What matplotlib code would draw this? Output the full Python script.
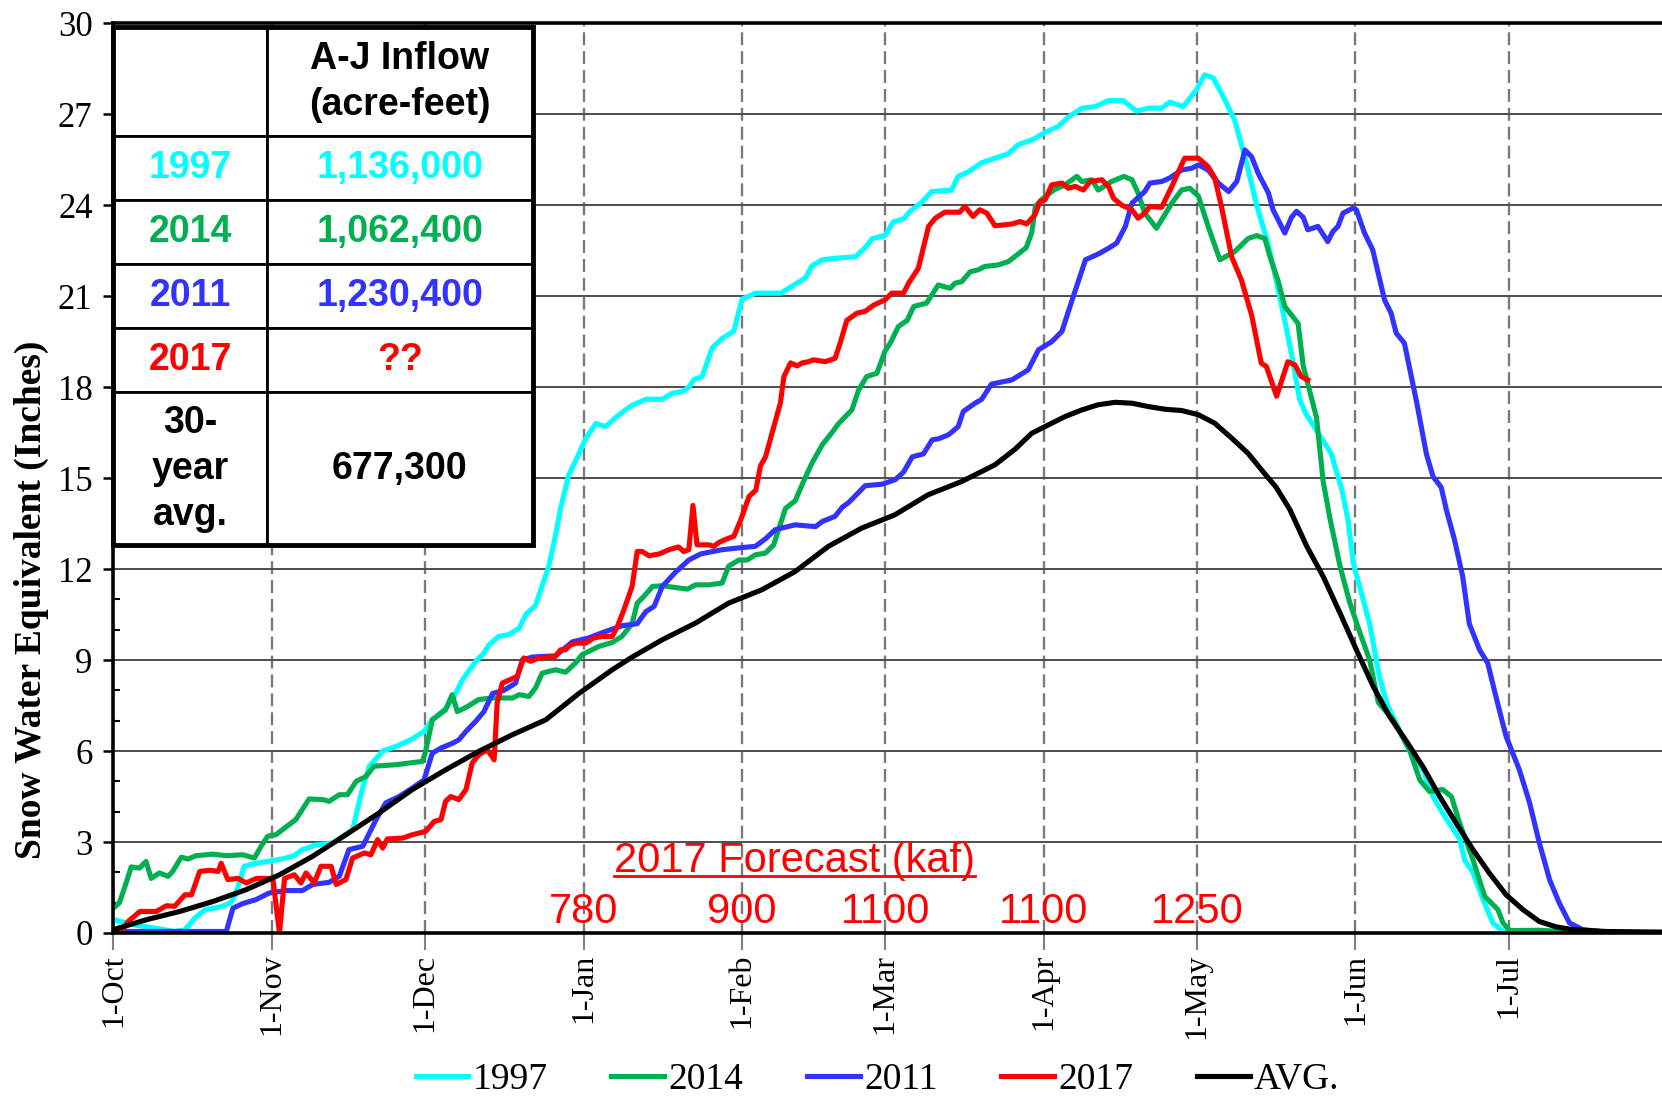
import numpy as np
import matplotlib
matplotlib.use('Agg')
import matplotlib.pyplot as plt
from matplotlib.ticker import MultipleLocator
from matplotlib.patches import Rectangle

# snow water equivalent (inches) vs day of water year (0 = 1-Oct)
pts_1997 = [(0, 0.44), (4, 0.27), (8, 0.16), (12, 0.05), (14, 0.1), (16, 0.5), (18, 0.77), (21, 0.86),
            (23, 1.0), (24, 1.3), (25.6, 2.2), (28, 2.3), (33, 2.44), (35.4, 2.55), (37, 2.75), (39.6, 2.9),
            (43, 2.97), (46.8, 3.4), (47.8, 4.1), (48.8, 4.8), (50.1, 5.5), (52.7, 6.0), (55.3, 6.15),
            (58.5, 6.4), (60.8, 6.65), (62.4, 7.03), (65, 7.4), (66.7, 7.8), (68.3, 8.35), (70.9, 8.96),
            (72.5, 9.23), (73.5, 9.5), (75.4, 9.78), (77.4, 9.84), (79.4, 10.05), (80.7, 10.5), (82.6, 10.8),
            (85.2, 12.1), (86.5, 13.1), (87.5, 14.0), (89.1, 15.1), (90.8, 15.7), (92.4, 16.3), (94.4, 16.8),
            (96.3, 16.7), (98.3, 17.0), (100.2, 17.25), (101.5, 17.4), (104.2, 17.6), (107.4, 17.6),
            (109.4, 17.8), (111.3, 17.85), (112.6, 18.0), (113.6, 18.25), (115.2, 18.35), (117.2, 19.3),
            (119.1, 19.6), (121.4, 19.85), (123, 20.9), (125.7, 21.1), (130.6, 21.1), (133.5, 21.4),
            (135.4, 21.6), (136.7, 22.0), (138.7, 22.2), (141.2, 22.25), (145.2, 22.3), (147.1, 22.6),
            (148.5, 22.9), (151, 23.0), (152.6, 23.45), (154.6, 23.55), (155.9, 23.8), (158.2, 24.1),
            (160.1, 24.45), (164, 24.5), (165.3, 24.95), (167.3, 25.1), (169.9, 25.4), (172.5, 25.55),
            (175.1, 25.7), (177.1, 26.0), (179.7, 26.15), (182.3, 26.4), (184.9, 26.6), (186.8, 26.9),
            (189.5, 27.2), (192.1, 27.25), (194.7, 27.45), (197.6, 27.45), (200.2, 27.1), (202.5, 27.2),
            (205.1, 27.2), (206.7, 27.4), (209.3, 27.25), (211.9, 27.8), (213.5, 28.3), (215.2, 28.2),
            (217.4, 27.5), (219.4, 26.8), (221.7, 25.4), (223.7, 24.0), (225.9, 22.75), (227.2, 21.76),
            (229.2, 20.2), (230.5, 19.1), (232.1, 17.6), (233.4, 17.1), (235.7, 16.5), (238.3, 15.8),
            (240.4, 14.6), (241.6, 13.6), (242.6, 12.2), (245.8, 10.2), (247.7, 8.46), (249.1, 7.6),
            (251, 6.9), (253.6, 6.0), (256.2, 5.4), (258.2, 4.5), (260.1, 3.95), (263.4, 3.1), (264.4, 2.4),
            (266, 2.0), (268, 1.1), (269.9, 0.33), (271.9, 0.05), (273.2, 0.0), (303, 0.0)]

pts_2014 = [(0, 0.82), (1.2, 1.0), (2.5, 1.65), (3.5, 2.18), (5.1, 2.14), (6.4, 2.36), (7.4, 1.8), (9.0, 1.98),
            (10.7, 1.87), (11.6, 2.03), (13.3, 2.5), (14.6, 2.44), (16.2, 2.55), (19.5, 2.6), (22.1, 2.55),
            (25.3, 2.58), (27.6, 2.47), (28.9, 2.86), (30.2, 3.19), (31.8, 3.24), (33.5, 3.46), (35.7, 3.74),
            (38.3, 4.42), (41.0, 4.4), (42.2, 4.34), (44.2, 4.56), (45.8, 4.56), (47.5, 5.0), (49.4, 5.16),
            (51.0, 5.5), (55.3, 5.55), (60.5, 5.66), (61.1, 6.0), (62.4, 7.03), (65.0, 7.36), (66.3, 7.86),
            (67.3, 7.3), (69.3, 7.47), (71.5, 7.7), (74.2, 7.75), (78.1, 7.75), (79.4, 7.86), (81.3, 7.8),
            (82.6, 8.08), (83.9, 8.57), (86.5, 8.68), (88.5, 8.6), (90.4, 8.9), (91.7, 9.18), (95.0, 9.45),
            (97.6, 9.58), (99.5, 9.78), (101.5, 10.2), (102.5, 10.88), (103.8, 11.1), (105.5, 11.43),
            (107.4, 11.45), (112.3, 11.34), (113.9, 11.48), (116.5, 11.48), (119.1, 11.54), (120.4, 12.1),
            (122.4, 12.3), (124.0, 12.3), (125.6, 12.47), (127.6, 12.53), (129.2, 12.8), (131.5, 14.0),
            (133.4, 14.25), (134.8, 14.8), (136.7, 15.5), (138.7, 16.1), (140.6, 16.5), (141.9, 16.8),
            (144.5, 17.25), (145.8, 17.9), (147.4, 18.35), (149.4, 18.46), (151.0, 19.2), (152.0, 19.45),
            (153.6, 20.0), (155.3, 20.2), (156.6, 20.66), (159.1, 20.77), (161.4, 21.37), (163.7, 21.26),
            (164.7, 21.43), (166.0, 21.48), (167.6, 21.8), (169.2, 21.87), (170.5, 21.98), (173.1, 22.03),
            (175.1, 22.14), (177.1, 22.4), (178.6, 22.6), (179.7, 23.1), (180.4, 23.96), (181.7, 24.2),
            (184.0, 24.5), (186.2, 24.67), (188.5, 24.95), (189.5, 24.78), (191.4, 24.84), (192.7, 24.5),
            (195.3, 24.78), (197.7, 24.95), (199.3, 24.84), (200.5, 24.4), (201.8, 23.74), (204.1, 23.24),
            (207.1, 24.07), (209.0, 24.5), (210.6, 24.56), (212.3, 24.3), (214.2, 23.3), (216.5, 22.2),
            (219.4, 22.47), (222.0, 22.9), (223.7, 23.0), (225.3, 22.9), (226.3, 22.3), (227.9, 21.5),
            (229.2, 20.66), (231.8, 20.1), (232.8, 18.7), (235.4, 17.0), (236.7, 14.9), (238.0, 13.7),
            (240.0, 12.1), (241.9, 10.9), (243.9, 9.9), (245.8, 9.0), (247.5, 7.6), (250.4, 7.03),
            (253.6, 6.04), (255.6, 5.05), (257.5, 4.67), (260.1, 4.73), (261.8, 4.5), (263.4, 3.63),
            (266.0, 2.42), (268.3, 1.21), (270.9, 0.77), (271.9, 0.33), (273.2, 0.08), (279.0, 0.09),
            (285.4, 0.03), (303, 0.0)]

pts_2011 = [(0, 0.05), (6.4, 0.05), (22.1, 0.05), (23.4, 0.82), (25.3, 0.97), (27.9, 1.1), (30.5, 1.32),
            (33.8, 1.4), (37.0, 1.4), (39.0, 1.6), (42.2, 1.67), (44.2, 1.87), (46.1, 2.75), (48.8, 2.86),
            (51.4, 3.74), (53.3, 4.29), (55.9, 4.5), (58.5, 4.78), (60.8, 5.05), (62.4, 5.93), (64.1, 6.1),
            (66.4, 6.26), (67.6, 6.37), (69.0, 6.65), (70.9, 6.98), (72.5, 7.3), (74.2, 7.9), (76.4, 8.0),
            (78.7, 8.24), (80.0, 9.0), (82.0, 9.1), (86.5, 9.14), (89.8, 9.6), (93.0, 9.73), (95.6, 9.9),
            (99.5, 10.13), (102.5, 10.2), (104.2, 10.6), (105.8, 10.77), (107.4, 11.43), (110.0, 11.9),
            (112.6, 12.3), (114.9, 12.5), (119.1, 12.64), (122.4, 12.7), (125.6, 12.75), (127.6, 13.0),
            (129.5, 13.3), (133.4, 13.46), (137.4, 13.4), (138.7, 13.57), (141.2, 13.74), (142.6, 14.04),
            (143.9, 14.2), (147.1, 14.75), (150.4, 14.8), (153.0, 14.95), (154.6, 15.2), (156.3, 15.7),
            (158.5, 15.8), (160.2, 16.26), (161.5, 16.3), (163.4, 16.43), (165.3, 16.7), (166.3, 17.2),
            (168.6, 17.47), (169.9, 17.6), (171.8, 18.1), (175.8, 18.24), (179.0, 18.57), (181.0, 19.23),
            (183.6, 19.5), (185.6, 19.84), (187.6, 20.88), (190.2, 22.2), (192.8, 22.4), (194.7, 22.58),
            (196.3, 22.75), (198.0, 23.3), (199.3, 24.07), (201.8, 24.45), (202.8, 24.73), (205.1, 24.78),
            (206.7, 24.9), (209.0, 25.16), (211.0, 25.22), (212.3, 25.33), (214.2, 25.16), (216.2, 24.73),
            (218.2, 24.45), (219.8, 24.78), (221.4, 25.82), (222.7, 25.6), (224.0, 25.05), (226.0, 24.4),
            (226.9, 23.85), (229.2, 23.08), (230.5, 23.6), (231.5, 23.8), (232.8, 23.6), (233.7, 23.19),
            (235.7, 23.3), (237.6, 22.8), (238.6, 23.13), (239.6, 23.3), (240.6, 23.74), (242.5, 23.9),
            (243.2, 23.85), (244.8, 23.08), (246.4, 22.53), (248.7, 20.88), (250.0, 20.44), (251.0, 19.78),
            (252.6, 19.45), (255.0, 17.5), (256.9, 15.8), (258.2, 15.05), (259.8, 14.7), (260.8, 13.96),
            (262.4, 12.97), (264.0, 11.76), (265.3, 10.2), (267.3, 9.34), (268.9, 8.9), (270.5, 7.8),
            (272.5, 6.48), (273.8, 5.93), (275.1, 5.38), (277.1, 4.29), (279.0, 2.97), (281.0, 1.76),
            (282.9, 0.99), (284.9, 0.33), (287.5, 0.11), (292.0, 0.03), (303, 0.0)]

pts_2017 = [(0, 0.11), (1.3, 0.0), (2.9, 0.38), (5.2, 0.71), (8.4, 0.71), (10.4, 0.9), (12.0, 0.88),
            (14.0, 1.26), (15.3, 1.26), (16.9, 2.03), (18.9, 2.07), (20.5, 2.03), (21.1, 2.3), (22.4, 1.76),
            (24.4, 1.8), (26.0, 1.65), (28.0, 1.8), (31.2, 1.8), (32.5, 0.0), (33.5, 1.8), (35.4, 1.92),
            (36.7, 1.65), (37.7, 1.98), (39.3, 1.65), (40.6, 2.2), (42.6, 2.2), (43.6, 1.6), (45.5, 1.76),
            (46.8, 2.47), (49.1, 2.64), (50.4, 2.58), (51.7, 3.08), (52.7, 2.8), (53.6, 3.1), (56.6, 3.13),
            (58.5, 3.24), (61.1, 3.35), (62.8, 3.68), (64.1, 3.74), (65.0, 4.34), (66.0, 4.5), (67.6, 4.4),
            (69.0, 4.73), (70.2, 5.6), (71.5, 5.88), (73.2, 6.04), (74.5, 5.71), (75.1, 7.58), (76.1, 8.24),
            (79.0, 8.46), (80.3, 9.07), (81.6, 8.96), (83.3, 9.07), (86.5, 9.12), (87.5, 9.34), (88.5, 9.34),
            (89.4, 9.5), (90.7, 9.56), (92.4, 9.56), (94.0, 9.73), (95.6, 9.78), (97.6, 9.78), (98.6, 10.1),
            (99.9, 10.66), (101.5, 11.43), (102.5, 12.58), (103.5, 12.58), (104.8, 12.44), (106.8, 12.5),
            (108.7, 12.64), (110.6, 12.73), (111.6, 12.58), (112.6, 12.64), (113.4, 14.1), (114.2, 12.8),
            (116.5, 12.8), (117.5, 12.75), (118.5, 12.88), (120.1, 13.0), (121.4, 13.08), (122.7, 13.6),
            (124.4, 14.4), (125.7, 14.6), (126.6, 15.4), (127.6, 15.7), (128.9, 16.5), (130.5, 17.47),
            (131.2, 18.35), (132.5, 18.8), (133.8, 18.7), (134.8, 18.8), (136.0, 18.84), (137.0, 18.9),
            (139.3, 18.84), (141.2, 18.95), (142.2, 19.45), (143.5, 20.2), (145.5, 20.44), (147.1, 20.5),
            (148.7, 20.7), (151.0, 20.88), (152.3, 21.1), (154.6, 21.1), (155.6, 21.43), (157.5, 21.92),
            (159.5, 23.3), (160.8, 23.57), (162.7, 23.77), (165.6, 23.77), (166.6, 23.96), (168.2, 23.63),
            (169.5, 23.85), (170.9, 23.74), (172.5, 23.32), (175.8, 23.38), (177.4, 23.46), (178.7, 23.38),
            (180.3, 23.68), (181.3, 24.12), (182.3, 24.18), (183.6, 24.67), (185.6, 24.73), (186.8, 24.56),
            (188.2, 24.62), (189.8, 24.5), (191.1, 24.78), (193.4, 24.84), (194.7, 24.62), (195.7, 24.23),
            (197.3, 24.0), (199.3, 23.85), (200.5, 23.57), (201.8, 23.74), (202.8, 23.96), (205.1, 23.93),
            (207.1, 24.62), (209.6, 25.55), (212.3, 25.55), (214.2, 25.27), (215.5, 24.9), (216.8, 23.96),
            (218.8, 22.3), (220.7, 21.54), (222.7, 20.38), (224.6, 18.79), (225.6, 18.68), (227.6, 17.7),
            (229.8, 18.84), (231.2, 18.73), (232.4, 18.35), (233.7, 18.24)]

pts_avg = [(0, 0.11), (6.5, 0.44), (13.0, 0.71), (19.5, 1.04), (26.0, 1.43), (32.5, 1.92), (39.0, 2.53),
           (45.5, 3.24), (52.0, 3.96), (58.5, 4.73), (65.0, 5.38), (71.5, 5.99), (78.1, 6.54), (84.6, 7.03),
           (91.1, 7.9), (97.6, 8.68), (101.5, 9.1), (107.4, 9.67), (113.9, 10.22), (120.4, 10.88),
           (126.9, 11.32), (133.4, 11.92), (139.9, 12.75), (146.4, 13.35), (152.9, 13.79), (159.4, 14.45),
           (166.0, 14.89), (172.5, 15.44), (176.4, 15.95), (179.7, 16.48), (183.0, 16.76), (186.2, 17.03),
           (189.5, 17.25), (192.7, 17.42), (196.0, 17.5), (199.3, 17.47), (202.5, 17.36), (205.8, 17.27),
           (209.0, 17.23), (212.3, 17.09), (215.5, 16.81), (218.8, 16.32), (222.0, 15.82), (225.2, 15.16),
           (227.5, 14.7), (230.2, 13.96), (233.5, 12.75), (236.7, 11.76), (240.0, 10.55), (243.2, 9.34),
           (246.5, 8.13), (249.7, 7.14), (253.0, 6.32), (256.2, 5.49), (259.5, 4.5), (262.7, 3.63),
           (266.0, 2.75), (269.2, 1.98), (272.5, 1.26), (275.8, 0.77), (279.0, 0.38), (282.3, 0.2),
           (285.6, 0.11), (292.0, 0.05), (303, 0.03)]

series_labels = ['1997', '2014', '2011', '2017', 'AVG.']
series_colors = ['#00FFFF', '#00B050', '#3333FF', '#FF0000', '#000000']

month_days = [0, 31, 61, 92, 123, 151, 182, 212, 243, 273]
month_labels = ['1-Oct', '1-Nov', '1-Dec', '1-Jan', '1-Feb', '1-Mar', '1-Apr', '1-May', '1-Jun', '1-Jul']

forecast_days = [92, 123, 151, 182, 212]
forecast_kaf = ['780', '900', '1100', '1100', '1250']

table_years = ['1997', '2014', '2011', '2017', '30-\nyear\navg.']
table_inflow = ['1,136,000', '1,062,400', '1,230,400', '??', '677,300']
table_colors = ['#00FFFF', '#00B050', '#3333FF', '#FF0000', '#000000']

SERIF = 'Liberation Serif'
SANS = 'Liberation Sans'

fig = plt.figure(figsize=(16.62, 10.97), dpi=100)
ax = fig.add_axes([0.0682, 0.1495, 0.9318, 0.8293])

handles = []
for pts, col, lab in zip([pts_1997, pts_2014, pts_2011, pts_2017, pts_avg], series_colors, series_labels):
    d = np.array(pts)
    ln, = ax.plot(d[:, 0], d[:, 1], color=col, lw=3.7, label=lab, zorder=3)
    handles.append(ln)

ax.set_xlim(0, 303)
ax.set_ylim(0, 30)
ax.set_yticks(np.arange(0, 31, 3))
ax.yaxis.set_minor_locator(MultipleLocator(1))
ax.set_xticks(month_days)
ax.set_xticklabels(month_labels, rotation=90, family=SERIF)
for lab in ax.get_yticklabels():
    lab.set_family(SERIF)
ax.tick_params(axis='y', which='major', direction='out', length=7, width=1.8, labelsize=25, pad=8)
ax.tick_params(axis='y', which='minor', direction='in', length=5, width=1.5)
ax.tick_params(axis='x', direction='out', length=12, width=1.5, color='#808080', labelsize=23, pad=3)

ax.grid(axis='y', color='#4d4d4d', lw=1.4)
ax.grid(axis='x', color='#7a7a7a', lw=1.7, ls=(0, (5.5, 2.5)))
ax.set_axisbelow(True)

ax.spines['right'].set_visible(False)
for s in ['left', 'top', 'bottom']:
    ax.spines[s].set_linewidth(2.6)
    ax.spines[s].set_color('black')
    ax.spines[s].set_zorder(4)

# forecast annotations
for d, v in zip(forecast_days, forecast_kaf):
    ax.text(d, 0.32, v, color='red', fontsize=30, ha='center', va='baseline', family=SANS, zorder=4)
title = ax.text(133.3, 2.02, '2017 Forecast (kaf)', color='red', fontsize=30, ha='center',
                va='baseline', family=SANS, zorder=4)

# inflow table
cell_text = [['', 'A-J Inflow\n(acre-feet)']] + [[y, v] for y, v in zip(table_years, table_inflow)]
row_colors = ['black'] + table_colors
row_h = [109.4, 63.6, 64.3, 63.6, 64.2, 153.3]
tbl = ax.table(cellText=cell_text, cellLoc='center', colWidths=[0.366, 0.634],
               bbox=[0, 0.4261, 0.2709, 0.5698])
tbl.auto_set_font_size(False)
for (r, c), cell in tbl.get_celld().items():
    cell.set_height(row_h[r])
    cell.set_linewidth(2)
    cell.set_facecolor('white')
    txt = cell.get_text()
    txt.set_color(row_colors[r])
    txt.set_fontsize(27)
    txt.set_fontweight('bold')
    txt.set_fontfamily(SANS)
    txt.set_linespacing(1.35)
tbl.set_zorder(6)
ax.add_patch(Rectangle((0, 0.4261), 0.2709, 0.5698, transform=ax.transAxes, fill=False,
                       lw=3.5, edgecolor='black', zorder=7, clip_on=False))

fig.text(0.019, 0.453, 'Snow Water Equivalent (Inches)', rotation=90, ha='center', va='center',
         fontsize=27, fontweight='bold', family=SERIF)

fig.legend(handles=handles, labels=series_labels, loc='center', bbox_to_anchor=(0.528, 0.016),
           ncol=5, frameon=False, prop={'family': SERIF, 'size': 27}, handlelength=1.4,
           handletextpad=0.12, columnspacing=1.7)

# underline the forecast heading
fig.canvas.draw()
bb = title.get_window_extent().transformed(ax.transData.inverted())
ax.plot([bb.x0, bb.x1], [1.87, 1.87], color='red', lw=2, zorder=4)

fig.savefig('out.png', dpi=100)
